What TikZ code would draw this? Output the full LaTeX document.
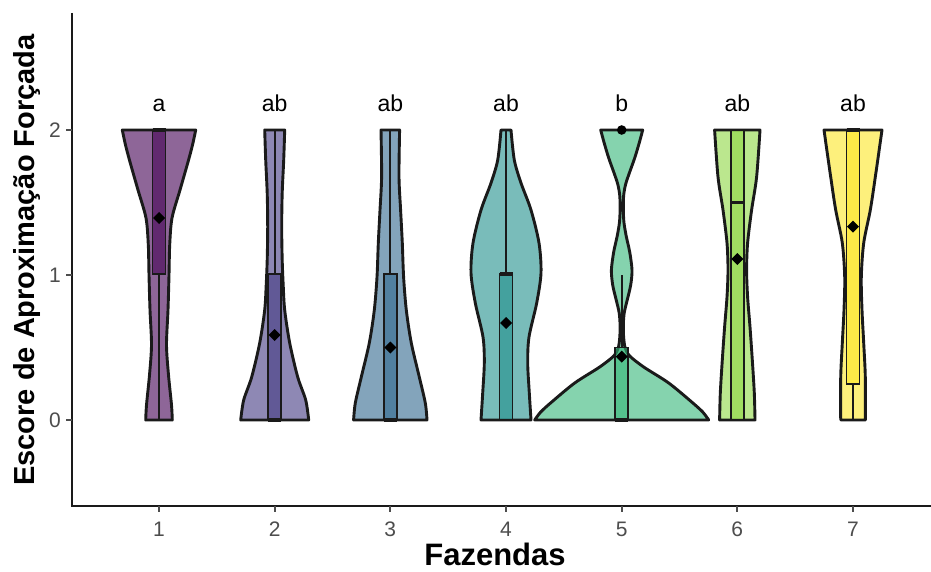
\documentclass[tikz,border=0pt]{standalone}
\usepackage{fontspec}
\setmainfont{Liberation Sans}
\definecolor{vA}{HTML}{440154}
\definecolor{vB}{HTML}{443A83}
\definecolor{vC}{HTML}{31688E}
\definecolor{vD}{HTML}{21908C}
\definecolor{vE}{HTML}{35B779}
\definecolor{vF}{HTML}{8FD744}
\definecolor{vG}{HTML}{FDE725}
\definecolor{axgray}{HTML}{4D4D4D}
\definecolor{lin}{HTML}{1A1A1A}
\tikzset{
  vio/.style={draw=lin, line width=2.9pt, fill opacity=0.6, line join=round},
  bx/.style={draw=lin, line width=1.9pt, fill opacity=0.6},
  wh/.style={draw=lin, line width=1.9pt},
  med/.style={draw=lin, line width=3.4pt},
  axl/.style={draw=lin, line width=2pt},
  tck/.style={draw=axgray, line width=1.8pt},
  ticklab/.style={text=axgray, inner sep=0pt, font=\fontsize{21}{25}\selectfont},
  sig/.style={text=black, inner sep=0pt, anchor=base, font=\fontsize{23}{27}\selectfont},
  axtitle/.style={text=black, inner sep=0pt, anchor=base, font=\bfseries\fontsize{29}{34}\selectfont}
}
\newcommand\violinshape[4]{%
  \begin{scope}[xshift=#1pt]
    \filldraw[vio, fill=#2] plot[smooth, tension=0.5] coordinates {#3}
      -- plot[smooth, tension=0.5] coordinates {#4} -- cycle;
  \end{scope}}
\newcommand\bxp[5]{%
  \filldraw[bx, fill=#2] ({#1-6.5},#3) rectangle ({#1+6.5},#4);
  \draw[med] ({#1-6.5},#5) -- ({#1+6.5},#5);}
\newcommand\meandot[2]{%
  \fill[black] (#1,{#2-6}) -- ({#1+6},#2) -- (#1,{#2+6}) -- ({#1-6},#2) -- cycle;}
\begin{document}
\begin{tikzpicture}[x=1pt, y=-1pt]
\useasboundingbox (0,0) rectangle (931,572);
\fill[white] (0,0) rectangle (931,572);

% violins
\violinshape{159}{vA}
 {(36.7,130) (33.5,145) (29,162) (21,190) (13,218) (10.7,245) (10,275) (9,310) (7.5,345) (9.5,375) (12.5,405) (13.3,420)}
 {(-13.3,420) (-12.5,405) (-9.5,375) (-7.5,345) (-9,310) (-10,275) (-10.7,245) (-13,218) (-21,190) (-29,162) (-33.5,145) (-36.7,130)}
\violinshape{274.7}{vB}
 {(10,130) (9,160) (7.5,193) (7,227) (7.5,260) (8.5,285) (10,310) (15,343) (23,377) (31,400) (34,420)}
 {(-34,420) (-31,400) (-23,377) (-15,343) (-10,310) (-8.5,285) (-7.5,260) (-7,227) (-7.5,193) (-9,160) (-10,130)}
\violinshape{390.3}{vC}
 {(9.3,130) (8.7,177) (10.3,210) (12,243) (13.3,277) (16,310) (21,343) (29,377) (35,403) (36.7,420)}
 {(-36.7,420) (-35,403) (-29,377) (-21,343) (-16,310) (-13.3,277) (-12,243) (-10.3,210) (-8.7,177) (-9.3,130)}
\violinshape{506}{vD}
 {(5,130) (8.3,160) (15,183) (25,210) (33,243) (35,273) (30.7,303) (23,337) (21.7,363) (23.3,393) (25,420)}
 {(-25,420) (-23.3,393) (-21.7,363) (-23,337) (-30.7,303) (-35,273) (-33,243) (-25,210) (-15,183) (-8.3,160) (-5,130)}
\violinshape{621.7}{vE}
 {(21,130) (17.5,143) (13,158) (8,172) (4,184) (2,195) (1.6,208) (2.2,222) (4.5,236) (8,252) (10.3,270) (9,285) (5.5,300) (2.5,313) (1.6,326) (2,338) (3.5,348) (8,356) (22,367) (47,383) (70,402) (81,412) (87,420)}
 {(-87,420) (-81,412) (-70,402) (-47,383) (-22,367) (-8,356) (-3.5,348) (-2,338) (-1.6,326) (-2.5,313) (-5.5,300) (-9,285) (-10.3,270) (-8,252) (-4.5,236) (-2.2,222) (-1.6,208) (-2,195) (-4,184) (-8,172) (-13,158) (-17.5,143) (-21,130)}
\violinshape{737.3}{vF}
 {(22.7,130) (19.3,177) (14.3,210) (10.3,243) (9.3,270) (10.3,297) (12.7,327) (15,360) (17,393) (17.7,420)}
 {(-17.7,420) (-17,393) (-15,360) (-12.7,327) (-10.3,297) (-9.3,270) (-10.3,243) (-14.3,210) (-19.3,177) (-22.7,130)}
\violinshape{853}{vG}
 {(29,130) (22.3,177) (17.3,210) (10.7,243) (8.3,277) (9,310) (10.7,343) (12.3,377) (12.3,420)}
 {(-12.3,420) (-12.3,377) (-10.7,343) (-9,310) (-8.3,277) (-10.7,243) (-17.3,210) (-22.3,177) (-29,130)}

% whiskers
\draw[wh] (159,274) -- (159,420);
\draw[wh] (274.7,130) -- (274.7,274);
\draw[wh] (390.3,130) -- (390.3,274);
\draw[wh] (506,130) -- (506,274);
\draw[wh] (621.7,275) -- (621.7,347.5);
\draw[wh] (853,383.75) -- (853,420);

% boxes
\bxp{159}{vA}{130}{274}{130}
\bxp{274.7}{vB}{274}{420}{420}
\bxp{390.3}{vC}{274}{420}{420}
\bxp{506}{vD}{274}{420}{274}
\bxp{621.7}{vE}{347.5}{420}{420}
\bxp{737.3}{vF}{130}{420}{202.5}
\bxp{853}{vG}{130}{383.75}{130}

% outlier
\fill[black] (621.7,130) circle (4.8);

% means
\meandot{159}{218}
\meandot{274.7}{335}
\meandot{390.3}{347.5}
\meandot{506}{323}
\meandot{621.7}{356.7}
\meandot{737.3}{259}
\meandot{853}{226.7}

% significance letters
\node[sig] (s1) at (159,112) {a};
\node[sig] (s2) at (274.7,112) {ab};
\node[sig] (s3) at (390.3,112) {ab};
\node[sig] (s4) at (506,112) {ab};
\node[sig] (s5) at (621.7,112) {b};
\node[sig] (s6) at (737.3,112) {ab};
\node[sig] (s7) at (853,112) {ab};

% axes
\draw[axl] (72,13) -- (72,506) -- (931,506);
\foreach \i/\xx in {1/159,2/274.7,3/390.3,4/506,5/621.7,6/737.3,7/853}{
  \draw[tck] (\xx,506) -- (\xx,512);
  \node[ticklab, anchor=base] (xl\i) at (\xx,536) {\i};
}
\foreach \v/\yy in {0/420,1/275,2/130}{
  \draw[tck] (66,\yy) -- (72,\yy);
  \node[ticklab, anchor=east] (yl\v) at (61,\yy) {\v};
}

% titles
\node[axtitle, font=\bfseries\fontsize{31}{36}\selectfont] (xt) at (495,565) {Fazendas};
\node[axtitle, rotate=90] (yt) at (34,260) {Escore de Aproximação Forçada};
\end{tikzpicture}
\end{document}
